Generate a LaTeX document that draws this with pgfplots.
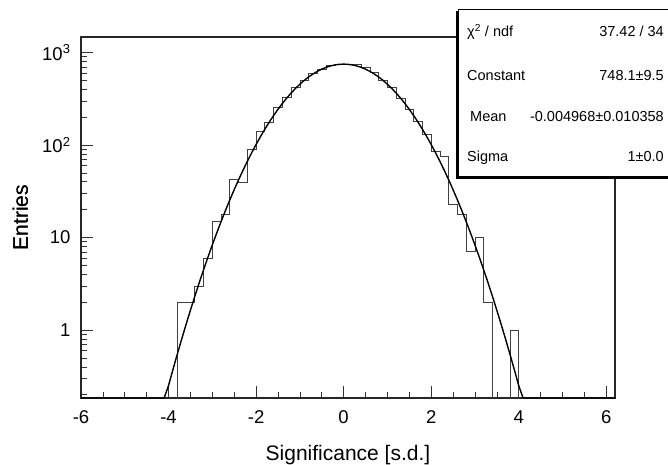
\documentclass[border=0pt]{standalone}
\usepackage{fontspec}
\setmainfont{Liberation Sans}
\usepackage{pgfplots}
\pgfplotsset{compat=1.18}
\newcommand{\statfont}{\fontsize{14.5}{16}\selectfont}
\begin{document}
\begin{tikzpicture}[x=1pt,y=1pt]
\path[use as bounding box] (0,0) rectangle (668,464);
\begin{axis}[
  at={(81pt,66pt)}, anchor=south west,
  width=534pt, height=361pt, scale only axis,
  xmin=-6, xmax=6.2, ymin=0.184, ymax=1470, ymode=log,
  axis line style={line width=1.1pt, black!85},
  xtick={-6,-4,-2,0,2,4,6}, xticklabels={-6,-4,-2,0,2,4,6},
  minor xtick={-5.5,-5,-4.5,-3.5,-3,-2.5,-1.5,-1,-0.5,0.5,1,1.5,2.5,3,3.5,4.5,5,5.5},
  ytick={1,10,100,1000}, yticklabels={1,10,10\textsuperscript{2},10\textsuperscript{3}},
  minor ytick={0.2,0.3,0.4,0.5,0.6,0.7,0.8,0.9,2,3,4,5,6,7,8,9,20,30,40,50,60,70,80,90,200,300,400,500,600,700,800,900},
  tick align=inside, xtick pos=bottom, ytick pos=left,
  major tick length=12pt, minor tick length=6pt,
  tick style={black!80, line width=0.6pt},
  xticklabel style={font=\fontsize{18.5}{20}\selectfont, yshift=-9pt},
  yticklabel style={font=\fontsize{18.5}{20}\selectfont, xshift=-7pt},
  xlabel={Significance [s.d.]}, ylabel={Entries},
  label style={font=\fontsize{21}{24}\selectfont},
  xlabel style={at={(axis description cs:0.5,0)}, anchor=base, yshift=-62pt},
  ylabel style={at={(axis description cs:-0.0993,0.5)}, anchor=base, rotate=0},
]
\addplot[const plot, mark=none, black!75, line width=0.7pt] coordinates {
(-4.0,0.1) (-3.8,2) (-3.6,2) (-3.4,3) (-3.2,6) (-3.0,15) (-2.8,18) (-2.6,43) (-2.4,39)
(-2.2,90) (-2.0,142) (-1.8,174) (-1.6,254) (-1.4,326) (-1.2,420) (-1.0,494) (-0.8,590)
(-0.6,665) (-0.4,720) (-0.2,745) (0.0,750) (0.2,750) (0.4,688) (0.6,608) (0.8,494)
(1.0,420) (1.2,316) (1.4,245) (1.6,182) (1.8,131) (2.0,86) (2.2,76) (2.4,23) (2.6,18)
(2.8,7) (3.0,10) (3.2,2) (3.4,0.1) (3.6,0.1) (3.8,1) (4.0,0.1) (4.2,0.1)
};
\addplot[mark=none, black, line width=1.4pt] coordinates {
(-6,0.184) (-4.1,0.184) (-4.0,0.2509) (-3.9,0.3727) (-3.8,0.5476) (-3.7,0.7966) (-3.6,1.147)
(-3.5,1.636) (-3.4,2.311) (-3.3,3.231) (-3.2,4.471) (-3.1,6.125) (-3.0,8.311) (-2.9,11.16)
(-2.8,14.84) (-2.7,19.54) (-2.6,25.47) (-2.5,32.87) (-2.4,41.99) (-2.3,53.12) (-2.2,66.52)
(-2.1,82.48) (-2.0,101.2) (-1.9,123.0) (-1.8,148.0) (-1.7,176.4) (-1.6,208.0) (-1.5,242.9)
(-1.4,280.8) (-1.3,321.4) (-1.2,364.1) (-1.1,408.5) (-1.0,453.7) (-0.9,499.0) (-0.8,543.2)
(-0.7,585.5) (-0.6,624.9) (-0.5,660.2) (-0.4,690.6) (-0.3,715.2) (-0.2,733.3) (-0.1,744.4)
(0,748.1) (0.1,744.4) (0.2,733.3) (0.3,715.2) (0.4,690.6) (0.5,660.2) (0.6,624.9) (0.7,585.5)
(0.8,543.2) (0.9,499.0) (1.0,453.7) (1.1,408.5) (1.2,364.1) (1.3,321.4) (1.4,280.8)
(1.5,242.9) (1.6,208.0) (1.7,176.4) (1.8,148.0) (1.9,123.0) (2.0,101.2) (2.1,82.48)
(2.2,66.52) (2.3,53.12) (2.4,41.99) (2.5,32.87) (2.6,25.47) (2.7,19.54) (2.8,14.84)
(2.9,11.16) (3.0,8.311) (3.1,6.125) (3.2,4.471) (3.3,3.231) (3.4,2.311) (3.5,1.636)
(3.6,1.147) (3.7,0.7966) (3.8,0.5476) (3.9,0.3727) (4.0,0.2509) (4.1,0.184) (6.2,0.184)
};
\end{axis}
% y title, rotated
\node[font=\fontsize{21}{24}\selectfont, rotate=90, anchor=base, inner sep=0pt] at (28,246.5) {Entries};
% statistics box
\fill[black] (456,285) rectangle (670,453);
\filldraw[fill=white, draw=black, line width=0.8pt] (458.5,287.5) rectangle (670,455);
\begin{scope}[every node/.style={font=\statfont, inner sep=0pt}]
\node[anchor=base west] at (467,427.1) {χ\textsuperscript{2} / ndf};
\node[anchor=base east] at (664,427.1) {37.42 / 34};
\node[anchor=base west] at (467,383.8) {Constant};
\node[anchor=base east] at (664,383.8) {748.1±9.5};
\node[anchor=base west] at (470,342.1) {Mean};
\node[anchor=base east] at (664,342.1) {-0.004968±0.010358};
\node[anchor=base west] at (467,302.1) {Sigma};
\node[anchor=base east] at (664,302.1) {1±0.0};
\end{scope}
\end{tikzpicture}
\end{document}
